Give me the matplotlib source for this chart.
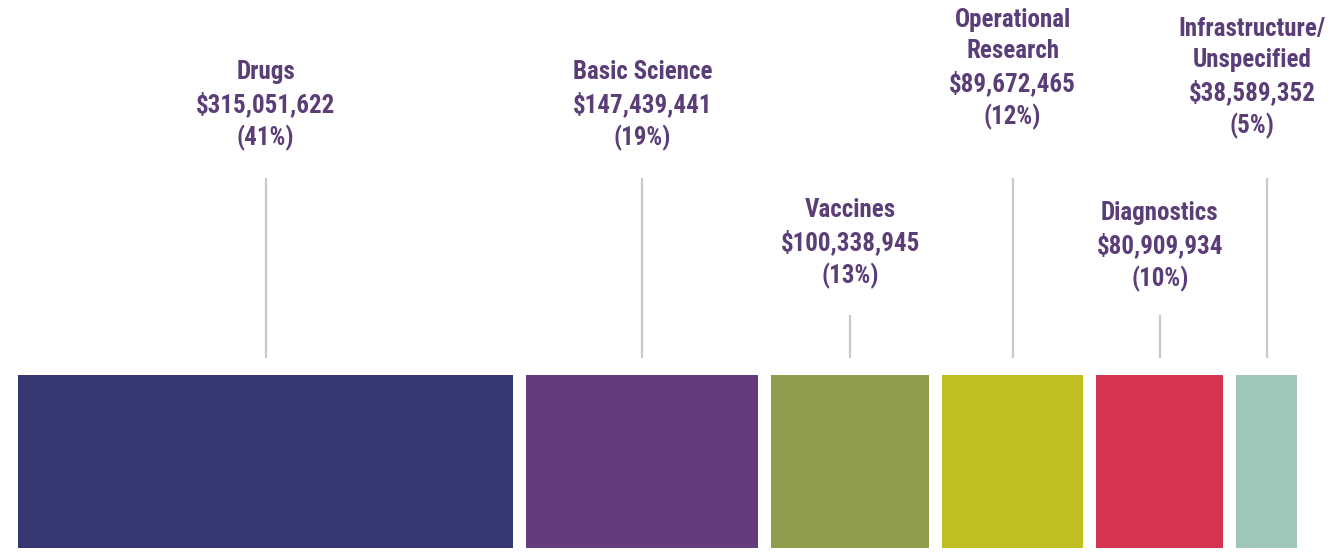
import matplotlib.pyplot as plt
from matplotlib import font_manager
import numpy as np

# funding by research area (USD)
categories = ["Drugs", "Basic Science", "Vaccines", "Operational\nResearch",
              "Diagnostics", "Infrastructure/\nUnspecified"]
amounts = [315051622, 147439441, 100338945, 89672465, 80909934, 38589352]
colors = ["#363872", "#643c7e", "#909c4b", "#bfbf24", "#d53551", "#9ec7b9"]

# layout (pixel rows, y grows downward)
label_top = [60, 60, 198, 8, 201, 17]
line_top = [178, 178, 315, 178, 315, 178]
line_bottom = 358
block_top, block_bottom = 375, 548

# pick a narrow font if one is around
names = {f.name for f in font_manager.fontManager.ttflist}
font_kw = {"family": ["DejaVu Sans"], "fontsize": 15}
for nm in ["Liberation Sans Narrow", "Roboto Condensed", "Open Sans Condensed"]:
    if nm in names:
        font_kw = {"family": [nm, "DejaVu Sans"], "fontsize": 18}
        break

W, H = 1332, 556
fig = plt.figure(figsize=(W / 100, H / 100), dpi=100)
left_px, right_px = 18, 1297
ax = fig.add_axes([left_px / W, 0, (right_px - left_px) / W, 1])

vals = np.array(amounts) / 1e6
total = vals.sum()
n_gap = len(vals) - 1
gap = 13 * total / (right_px - left_px - 13 * n_gap)  # 13 px gaps in value units
span = total + gap * n_gap
ax.set_xlim(0, span)
ax.set_ylim(H, 0)
ax.axis("off")

lefts = np.concatenate([[0], np.cumsum(vals[:-1] + gap)])
ax.bar(lefts, block_bottom - block_top, width=vals, bottom=block_top,
       align="edge", color=colors, edgecolor="none")

pct = np.round(vals / total * 100).astype(int)
txtcol = "#5b3d78"
for i, name in enumerate(categories):
    cx = lefts[i] + vals[i] / 2
    ax.plot([cx, cx], [line_top[i], line_bottom], color="#c8c8c8", lw=1.6,
            solid_capstyle="butt")
    label = f"{name}\n${amounts[i]:,}\n({pct[i]}%)"
    # keep the last label inside the figure
    tx = min(cx, span - 0.035 * span) if i == len(vals) - 1 else cx
    ax.text(tx, label_top[i], label, ha="center", va="top", color=txtcol,
            fontweight="bold", linespacing=1.36, clip_on=False, **font_kw)

fig.savefig("out.png", dpi=100)
